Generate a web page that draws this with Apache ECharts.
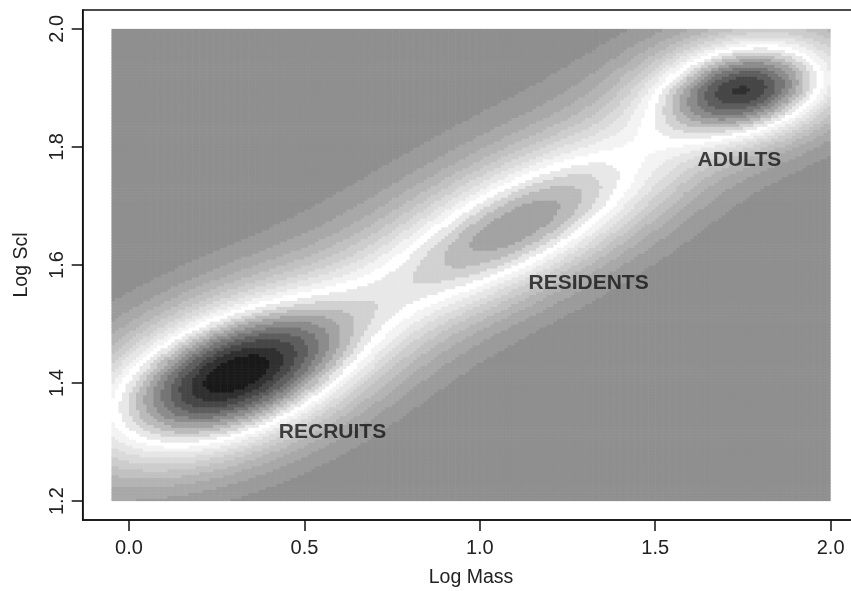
<!DOCTYPE html>
<html>
<head>
<meta charset="utf-8">
<script src="https://cdn.jsdelivr.net/npm/echarts@6/dist/echarts.min.js"></script>
<style>html,body{margin:0;padding:0;background:#fff}#chart{width:851px;height:591px}</style>
</head>
<body>
<div id="chart"></div>
<script>
// ---- data ----
const groupNames = ['RECRUITS', 'RESIDENTS', 'ADULTS'];
const labelMass  = [0.58, 1.31, 1.74];
const labelScl   = [1.317, 1.570, 1.777];
// density components: recruits, residents, adults, broad diagonal ridge
const compMass   = [0.29, 1.12, 1.76, 1.0];
const compScl    = [1.41, 1.668, 1.90, 1.668];
const compSdMass = [0.265, 0.311, 0.185, 0.75];
const compSdScl  = [0.093, 0.110, 0.060, 0.26];
const compCorr   = [0.45, 0.71, 0.20, 0.90];
const compHeight = [1.0, 0.60, 0.86, 0.19];
const xTicks = [0.0, 0.5, 1.0, 1.5, 2.0];
const yTicks = [1.2, 1.4, 1.6, 1.8, 2.0];
const massRange = [-0.05, 2.0];
const sclRange  = [1.2, 2.0];

// ---- density surface on a grid ----
const dx = 0.01, dy = 0.005;
const nx = Math.round((massRange[1] - massRange[0]) / dx);
const ny = Math.round((sclRange[1] - sclRange[0]) / dy);
function density(x, y) {
  let s = 0;
  for (let k = 0; k < compMass.length; k++) {
    const u = (x - compMass[k]) / compSdMass[k];
    const v = (y - compScl[k]) / compSdScl[k];
    const r = compCorr[k];
    const q = (u * u + v * v - 2 * r * u * v) / (1 - r * r);
    s += compHeight[k] * Math.exp(-0.5 * q);
  }
  return s;
}
const cells = [];
let fmax = 0;
for (let i = 0; i < nx; i++) {
  for (let j = 0; j < ny; j++) {
    const x = massRange[0] + (i + 0.5) * dx;
    const y = sclRange[0] + (j + 0.5) * dy;
    const f = density(x, y);
    if (f > fmax) fmax = f;
    cells.push([x, y, f]);
  }
}
cells.forEach(c => { c[2] = c[2] / fmax; });

const nBands = 20, whiteBand = 9;
function bandColor(f) {
  const i = Math.min(nBands - 1, Math.floor(f * nBands));
  let g;
  if (i <= whiteBand) g = 0.56 + 0.44 * i / whiteBand;
  else g = 1 - 0.9 * (i - whiteBand) / (nBands - 1 - whiteBand);
  const c = Math.round(g * 255);
  return 'rgb(' + c + ',' + c + ',' + c + ')';
}

const chart = echarts.init(document.getElementById('chart'), null, { renderer: 'canvas' });
const font = "'Liberation Sans', Arial, sans-serif";
chart.setOption({
  animation: false,
  backgroundColor: '#ffffff',
  grid: { left: 82.7, right: -8.4, top: 10, bottom: 71, containLabel: false, outerBoundsMode: 'none',
          show: true, borderColor: '#111', borderWidth: 1.5, backgroundColor: 'transparent' },
  xAxis: {
    type: 'value', min: -0.132, max: 2.082,
    name: 'Log Mass', nameLocation: 'middle', nameGap: 48,
    nameTextStyle: { fontFamily: font, fontSize: 19.5, color: '#222' },
    axisLine: { show: true, onZero: false, lineStyle: { color: '#111', width: 1.5 } },
    axisTick: { show: true, length: 11, customValues: xTicks, lineStyle: { color: '#111', width: 1.5 } },
    axisLabel: { customValues: xTicks, margin: 18, fontFamily: font, fontSize: 20, color: '#222', formatter: v => v.toFixed(1) },
    splitLine: { show: false }
  },
  yAxis: {
    type: 'value', min: 1.168, max: 2.032,
    name: 'Log Scl', nameLocation: 'middle', nameGap: 51, nameRotate: 90,
    nameTextStyle: { fontFamily: font, fontSize: 19.5, color: '#222' },
    axisLine: { show: true, onZero: false, lineStyle: { color: '#111', width: 1.5 } },
    axisTick: { show: true, length: 11, customValues: yTicks, lineStyle: { color: '#111', width: 1.5 } },
    axisLabel: { customValues: yTicks, rotate: 90, margin: 15, fontFamily: font, fontSize: 20, color: '#222', formatter: v => v.toFixed(1) },
    splitLine: { show: false }
  },
  series: [
    {
      type: 'custom',
      data: cells,
      progressive: 0,
      silent: true,
      renderItem: function (params, api) {
        const x = api.value(0), y = api.value(1), f = api.value(2);
        const p0 = api.coord([x - dx / 2, y + dy / 2]);
        const p1 = api.coord([x + dx / 2, y - dy / 2]);
        const padX = (x + dx < massRange[1]) ? 0.6 : 0;
        const padY = (y - dy > sclRange[0]) ? 0.6 : 0;
        return {
          type: 'rect',
          shape: { x: p0[0], y: p0[1], width: p1[0] - p0[0] + padX, height: p1[1] - p0[1] + padY },
          style: { fill: bandColor(f) }
        };
      }
    },
    {
      type: 'scatter',
      symbolSize: 0,
      silent: true,
      data: groupNames.map((n, k) => ({ name: n, value: [labelMass[k], labelScl[k]] })),
      label: { show: true, position: 'inside', formatter: '{b}', fontFamily: font, fontWeight: 'bold', fontSize: 21, color: '#151515' }
    }
  ]
});
</script>
</body>
</html>
